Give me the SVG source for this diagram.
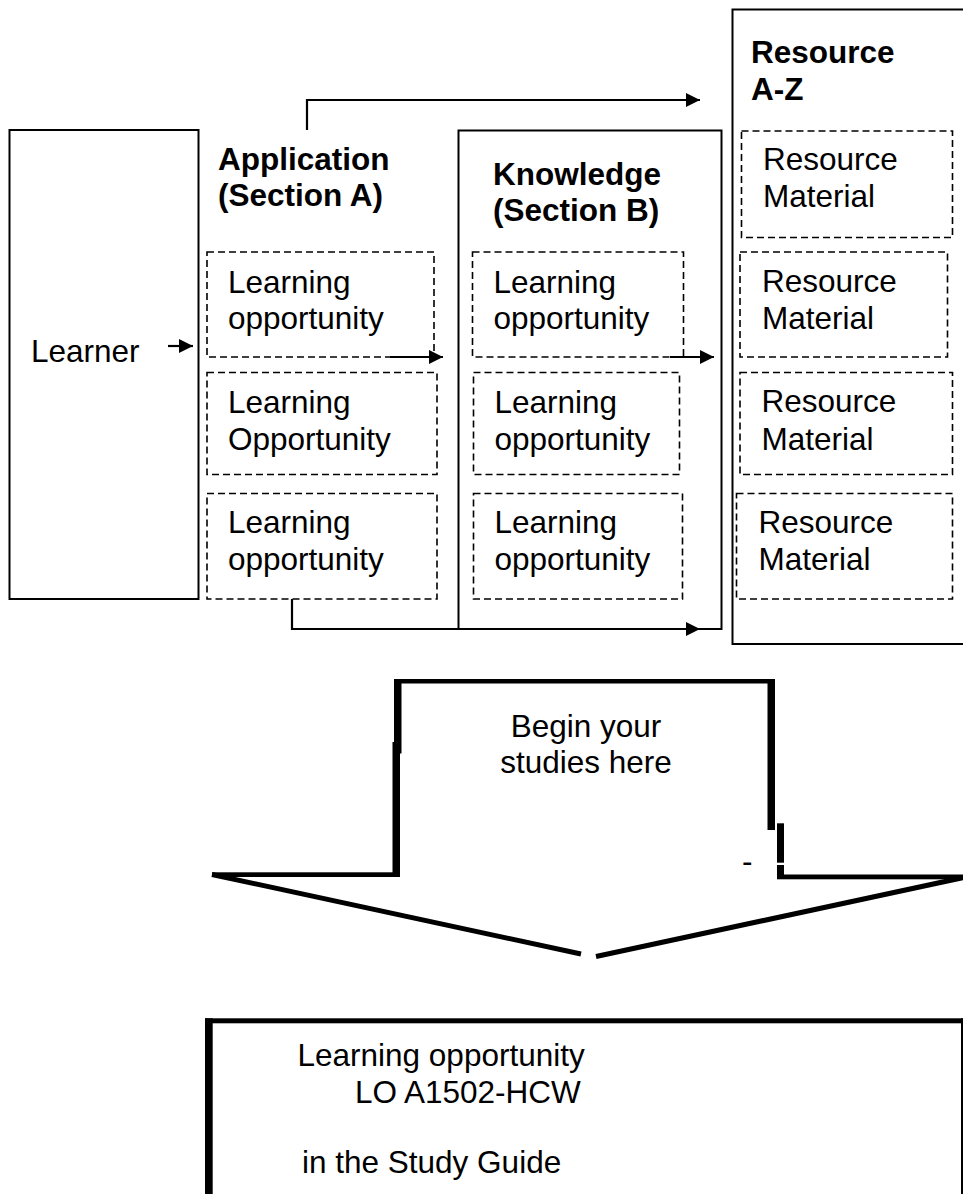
<svg xmlns="http://www.w3.org/2000/svg" width="963" height="1194" viewBox="0 0 963 1194">
<style>
text{font-family:"Liberation Sans",Arial,Helvetica,sans-serif;font-size:31.5px;fill:#000}
.b{font-weight:bold}
.solid{fill:none;stroke:#000;stroke-width:2}
.dash{fill:none;stroke:#000;stroke-width:1.6;stroke-dasharray:7 4}
.conn{fill:none;stroke:#000;stroke-width:2.2}
.thick{fill:#000}
.diag{fill:none;stroke:#000;stroke-width:5}
</style>
<defs>
<marker id="ah" markerUnits="userSpaceOnUse" markerWidth="15" markerHeight="15" refX="14" refY="7" orient="auto">
<path d="M0,0 L14,7 L0,14 z" fill="#000"/>
</marker>
</defs>
<rect width="963" height="1194" fill="#fff"/>

<g id="learner">
<rect class="solid" x="9.5" y="130" width="189" height="469"/>
<text x="31" y="362">Learner</text>
</g>

<g id="application">
<text class="b" x="218" y="170">Application</text>
<text class="b" x="218" y="206">(Section A)</text>
<g id="lo-a1"><rect class="dash" x="207" y="252" width="227" height="105"/>
<text x="228" y="293">Learning</text><text x="228" y="329">opportunity</text></g>
<g id="lo-a2"><rect class="dash" x="207" y="372.5" width="230" height="102"/>
<text x="228" y="413">Learning</text><text x="228" y="450">Opportunity</text></g>
<g id="lo-a3"><rect class="dash" x="207" y="493.5" width="230" height="105.5"/>
<text x="228" y="533">Learning</text><text x="228" y="570">opportunity</text></g>
</g>

<g id="knowledge">
<rect class="solid" x="458.5" y="130.5" width="263" height="498.5"/>
<text class="b" x="493" y="185">Knowledge</text>
<text class="b" x="493" y="221">(Section B)</text>
<g id="lo-k1"><rect class="dash" x="472.5" y="252" width="211" height="105"/>
<text x="493.5" y="293">Learning</text><text x="493.5" y="329">opportunity</text></g>
<g id="lo-k2"><rect class="dash" x="473.5" y="372.5" width="206" height="102"/>
<text x="494.5" y="413">Learning</text><text x="494.5" y="450">opportunity</text></g>
<g id="lo-k3"><rect class="dash" x="473.5" y="493.5" width="209" height="105.5"/>
<text x="494.5" y="533">Learning</text><text x="494.5" y="570">opportunity</text></g>
</g>

<g id="resources">
<rect class="solid" x="732.5" y="9.5" width="240" height="634.5"/>
<text class="b" x="751" y="63">Resource</text>
<text class="b" x="751" y="100">A-Z</text>
<g id="rm1"><rect class="dash" x="741.5" y="131" width="211" height="106.5"/>
<text x="763" y="170">Resource</text><text x="763" y="207">Material</text></g>
<g id="rm2"><rect class="dash" x="740" y="252" width="207.5" height="105"/>
<text x="762" y="292">Resource</text><text x="762" y="328.5">Material</text></g>
<g id="rm3"><rect class="dash" x="740" y="372.5" width="212.5" height="102"/>
<text x="761.5" y="412">Resource</text><text x="761.5" y="449.5">Material</text></g>
<g id="rm4"><rect class="dash" x="736.5" y="493.5" width="216" height="105.5"/>
<text x="758.5" y="532.5">Resource</text><text x="758.5" y="570">Material</text></g>
</g>

<g id="connectors">
<path class="conn" d="M307,130 V100 H700" marker-end="url(#ah)"/>
<path class="conn" d="M168,346 H193" marker-end="url(#ah)"/>
<path class="conn" d="M390,357 H443" marker-end="url(#ah)"/>
<path class="conn" d="M670,357 H714" marker-end="url(#ah)"/>
<path class="conn" d="M292,599 V629 H700" marker-end="url(#ah)"/>
</g>

<g id="begin-arrow">
<rect class="thick" x="212" y="872.3" width="188" height="4.7"/>
<rect class="thick" x="392.5" y="742" width="7.5" height="135"/>
<rect class="thick" x="394" y="679" width="7.5" height="74.5"/>
<rect class="thick" x="394" y="679" width="381" height="4.5"/>
<rect class="thick" x="767.5" y="679" width="7.5" height="151"/>
<rect class="thick" x="777" y="823.3" width="7" height="39.4"/>
<rect class="thick" x="777" y="865" width="7" height="14"/>
<rect class="thick" x="777" y="874.5" width="186" height="4.8"/>
<path class="diag" d="M212,874.5 L581,954"/>
<path class="diag" d="M966,877 L596,956.5"/>
<text x="742" y="872.3">-</text>
<text x="586" y="737" text-anchor="middle">Begin your</text>
<text x="586" y="773" text-anchor="middle">studies here</text>
</g>

<g id="study-guide">
<rect class="thick" x="205" y="1018.3" width="758" height="5"/>
<rect class="thick" x="205" y="1018.3" width="7.7" height="176"/>
<rect class="thick" x="961" y="1018.3" width="2" height="176"/>
<text x="297.5" y="1066">Learning opportunity</text>
<text x="355" y="1103">LO A1502-HCW</text>
<text x="302" y="1173">in the Study Guide</text>
</g>
</svg>
